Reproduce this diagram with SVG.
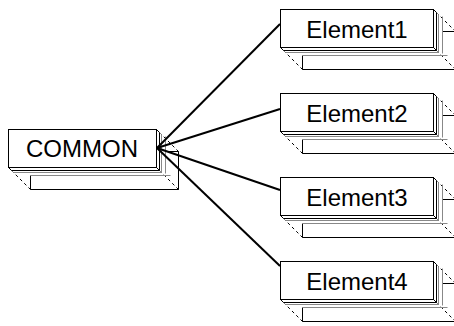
<svg xmlns="http://www.w3.org/2000/svg" width="454" height="326" viewBox="0 0 454 326">
<style>
.front{fill:#fff;stroke:#000;stroke-width:1}
.l1{fill:#fff;stroke:#000;stroke-width:1}
.l2{fill:none;stroke:#888;stroke-width:1}
.back{fill:none;stroke:#000;stroke-width:1}
.dash{fill:none;stroke:#000;stroke-width:1;stroke-dasharray:3,3}
.lbl{font-family:"Liberation Sans",Arial,sans-serif;font-size:24px;fill:#000;text-anchor:middle}
.conn{stroke:#000;stroke-width:2;fill:none}
</style>
<defs>
<g id="stack153">
<path class="back" d="M22,46 V60 H175 V22 H162"/>
<path class="dash" d="M3,41 L22,60 M156,3 L175,22 M156,41 L175,60"/>
<path class="l2" d="M162,7 V44 M22,46 H167"/>
<path class="l2" d="M156,3 L158,5 L158,43 L5,43 L3,41 M156,41 L158,43"/>
<path class="l1" d="M153,0 L156,3 L156,41 L3,41 L0,38 Z"/>
<path class="l1" d="M153,38 L156,41"/>
<rect class="front" x="0" y="0" width="153" height="38"/>
</g>
<g id="stack148">
<path class="back" d="M22,46 V60 H170 V22 H157"/>
<path class="dash" d="M3,41 L22,60 M151,3 L170,22 M151,41 L170,60"/>
<path class="l2" d="M157,7 V44 M22,46 H162"/>
<path class="l2" d="M151,3 L153,5 L153,43 L5,43 L3,41 M151,41 L153,43"/>
<path class="l1" d="M148,0 L151,3 L151,41 L3,41 L0,38 Z"/>
<path class="l1" d="M148,38 L151,41"/>
<rect class="front" x="0" y="0" width="148" height="38"/>
</g>
</defs>
<g id="node-common">
<use href="#stack148" transform="translate(8.5,129.5)"/>
<text class="lbl" x="82" y="157">COMMON</text>
</g>
<g id="node-element1">
<use href="#stack153" transform="translate(280.5,9.5)"/>
<text class="lbl" x="357" y="37.5">Element1</text>
</g>
<g id="node-element2">
<use href="#stack153" transform="translate(280.5,93.5)"/>
<text class="lbl" x="357" y="121.5">Element2</text>
</g>
<g id="node-element3">
<use href="#stack153" transform="translate(280.5,177.5)"/>
<text class="lbl" x="357" y="205.5">Element3</text>
</g>
<g id="node-element4">
<use href="#stack153" transform="translate(280.5,261.5)"/>
<text class="lbl" x="357" y="289.5">Element4</text>
</g>
<g id="connectors">
<line class="conn" x1="157" y1="148" x2="280" y2="24"/>
<line class="conn" x1="157" y1="148" x2="280" y2="109"/>
<line class="conn" x1="157" y1="148" x2="280" y2="190"/>
<line class="conn" x1="157" y1="148" x2="280" y2="266"/>
</g>
</svg>
